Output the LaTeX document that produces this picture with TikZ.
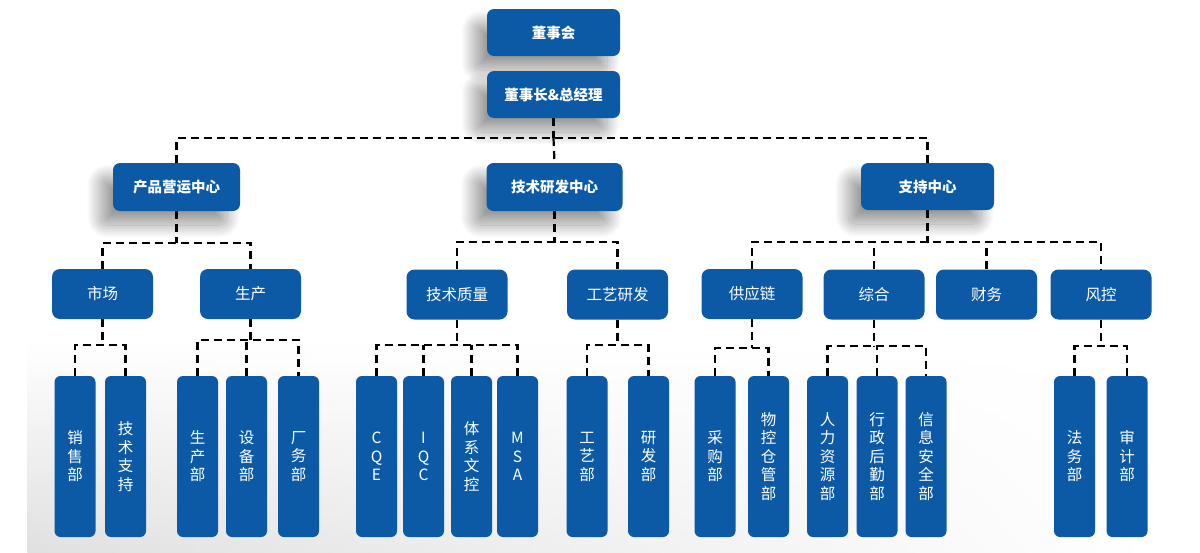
\documentclass[tikz,border=0pt]{standalone}
\usepackage{fontspec}
\setmainfont{Noto Sans CJK SC}
\usetikzlibrary{shadows.blur,fadings}
\definecolor{boxblue}{RGB}{12,90,166}
\tikzset{
  base/.style={rounded corners=7pt, fill=boxblue, text=white, inner sep=0pt, align=center},
  topbox/.style={base, minimum width=133pt, minimum height=47pt, font=\fontsize{14.5}{16}\selectfont\bfseries,
    blur shadow={shadow xshift=-13pt, shadow yshift=-14pt, shadow blur radius=13pt, shadow blur steps=30, shadow opacity=40}},
  midbox/.style={base, rounded corners=8pt, minimum width=101pt, minimum height=50pt, font=\fontsize{15.5}{17}\selectfont},
  leaf/.style={base, rounded corners=6pt, minimum width=41pt, minimum height=161pt, font=\fontsize{15.5}{18.5}\selectfont},
  conn/.style={draw=black, line width=2.2pt, dash pattern=on 8pt off 5pt}
}
\begin{document}
\begin{tikzpicture}[x=1pt,y=-1pt]
\useasboundingbox (0,0) rectangle (1200,552);
% background
\shade[top color=white, bottom color=black!12, path fading=east] (28,340) rectangle (1150,552);
% level 0/1
\node[topbox] (bod) at (553.5,32.5) {董事会};
\node[topbox] (gm) at (553.5,94.5) {董事长\&总经理};
% level 2
\node[topbox, minimum width=127pt, minimum height=48pt] (pc) at (176.5,187) {产品营运中心};
\node[topbox, minimum width=136pt, minimum height=48pt] (tc) at (554.5,187) {技术研发中心};
\node[topbox] (sc) at (927.5,186.5) {支持中心};
% level 3
\node[midbox] (mk) at (102.5,294) {市场};
\node[midbox] (sp) at (250.5,294) {生产};
\node[midbox] (jz) at (457,294.5) {技术质量};
\node[midbox] (gy) at (617.5,294.5) {工艺研发};
\node[midbox] (gl) at (752,294) {供应链};
\node[midbox] (zh) at (874,294.5) {综合};
\node[midbox] (cw) at (986.5,294.5) {财务};
\node[midbox] (fk) at (1101,294.5) {风控};
% level 4
\node[leaf] (l1) at (75,456.5) {销\\售\\部};
\node[leaf] (l2) at (125.5,456.5) {技\\术\\支\\持};
\node[leaf] (l3) at (197.5,456.5) {生\\产\\部};
\node[leaf] (l4) at (246.5,456.5) {设\\备\\部};
\node[leaf] (l5) at (298.5,456.5) {厂\\务\\部};
\node[leaf] (l6) at (376.5,456.5) {C\\Q\\E};
\node[leaf] (l7) at (423.5,456.5) {I\\Q\\C};
\node[leaf] (l8) at (471.5,456.5) {体\\系\\文\\控};
\node[leaf] (l9) at (517.5,456.5) {M\\S\\A};
\node[leaf] (l10) at (587,456.5) {工\\艺\\部};
\node[leaf] (l11) at (648.5,456.5) {研\\发\\部};
\node[leaf] (l12) at (715,456.5) {采\\购\\部};
\node[leaf] (l13) at (768.5,456.5) {物\\控\\仓\\管\\部};
\node[leaf] (l14) at (827.5,456.5) {人\\力\\资\\源\\部};
\node[leaf] (l15) at (877,456.5) {行\\政\\后\\勤\\部};
\node[leaf] (l16) at (926,456.5) {信\\息\\安\\全\\部};
\node[leaf] (l17) at (1074.5,456.5) {法\\务\\部};
\node[leaf] (l18) at (1127,456.5) {审\\计\\部};
% bus coordinates
\coordinate (b0) at (553.5,138);
\coordinate (bp) at (176.5,243);
\coordinate (bt) at (554.5,242);
\coordinate (bs) at (927.5,242);
\coordinate (bmk) at (102.5,345);
\coordinate (bsp) at (250.5,340);
\coordinate (bjz) at (457,345);
\coordinate (bgy) at (617.5,345);
\coordinate (bgl) at (752,348);
\coordinate (bzh) at (874,346);
\coordinate (bfk) at (1101,346);
% level 1 -> 2
\draw[conn] (gm.south) -- (b0);
\draw[conn] (pc.north) |- (b0) -| (sc.north);
\draw[conn] (b0) -- (tc.north);
% level 2 -> 3
\draw[conn] (pc.south) -- (bp);
\draw[conn] (mk.north) |- (bp) -| (sp.north);
\draw[conn] (tc.south) -- (bt);
\draw[conn] (jz.north) |- (bt) -| (gy.north);
\draw[conn] (sc.south) -- (bs);
\draw[conn] (gl.north) |- (bs) -| (fk.north);
\draw[conn] (zh.north) -- (zh.north |- bs);
\draw[conn] (cw.north) -- (cw.north |- bs);
% level 3 -> 4
\draw[conn] (mk.south) -- (bmk);
\draw[conn] (l1.north) |- (bmk) -| (l2.north);
\draw[conn] (sp.south) -- (bsp);
\draw[conn] (l3.north) |- (bsp) -| (l5.north);
\draw[conn] (l4.north) -- (l4.north |- bsp);
\draw[conn] (jz.south) -- (bjz);
\draw[conn] (l6.north) |- (bjz) -| (l9.north);
\draw[conn] (l7.north) -- (l7.north |- bjz);
\draw[conn] (l8.north) -- (l8.north |- bjz);
\draw[conn] (gy.south) -- (bgy);
\draw[conn] (l10.north) |- (bgy) -| (l11.north);
\draw[conn] (gl.south) -- (bgl);
\draw[conn] (l12.north) |- (bgl) -| (l13.north);
\draw[conn] (zh.south) -- (bzh);
\draw[conn] (l14.north) |- (bzh) -| (l16.north);
\draw[conn] (l15.north) -- (l15.north |- bzh);
\draw[conn] (fk.south) -- (bfk);
\draw[conn] (l17.north) |- (bfk) -| (l18.north);
\end{tikzpicture}
\end{document}
